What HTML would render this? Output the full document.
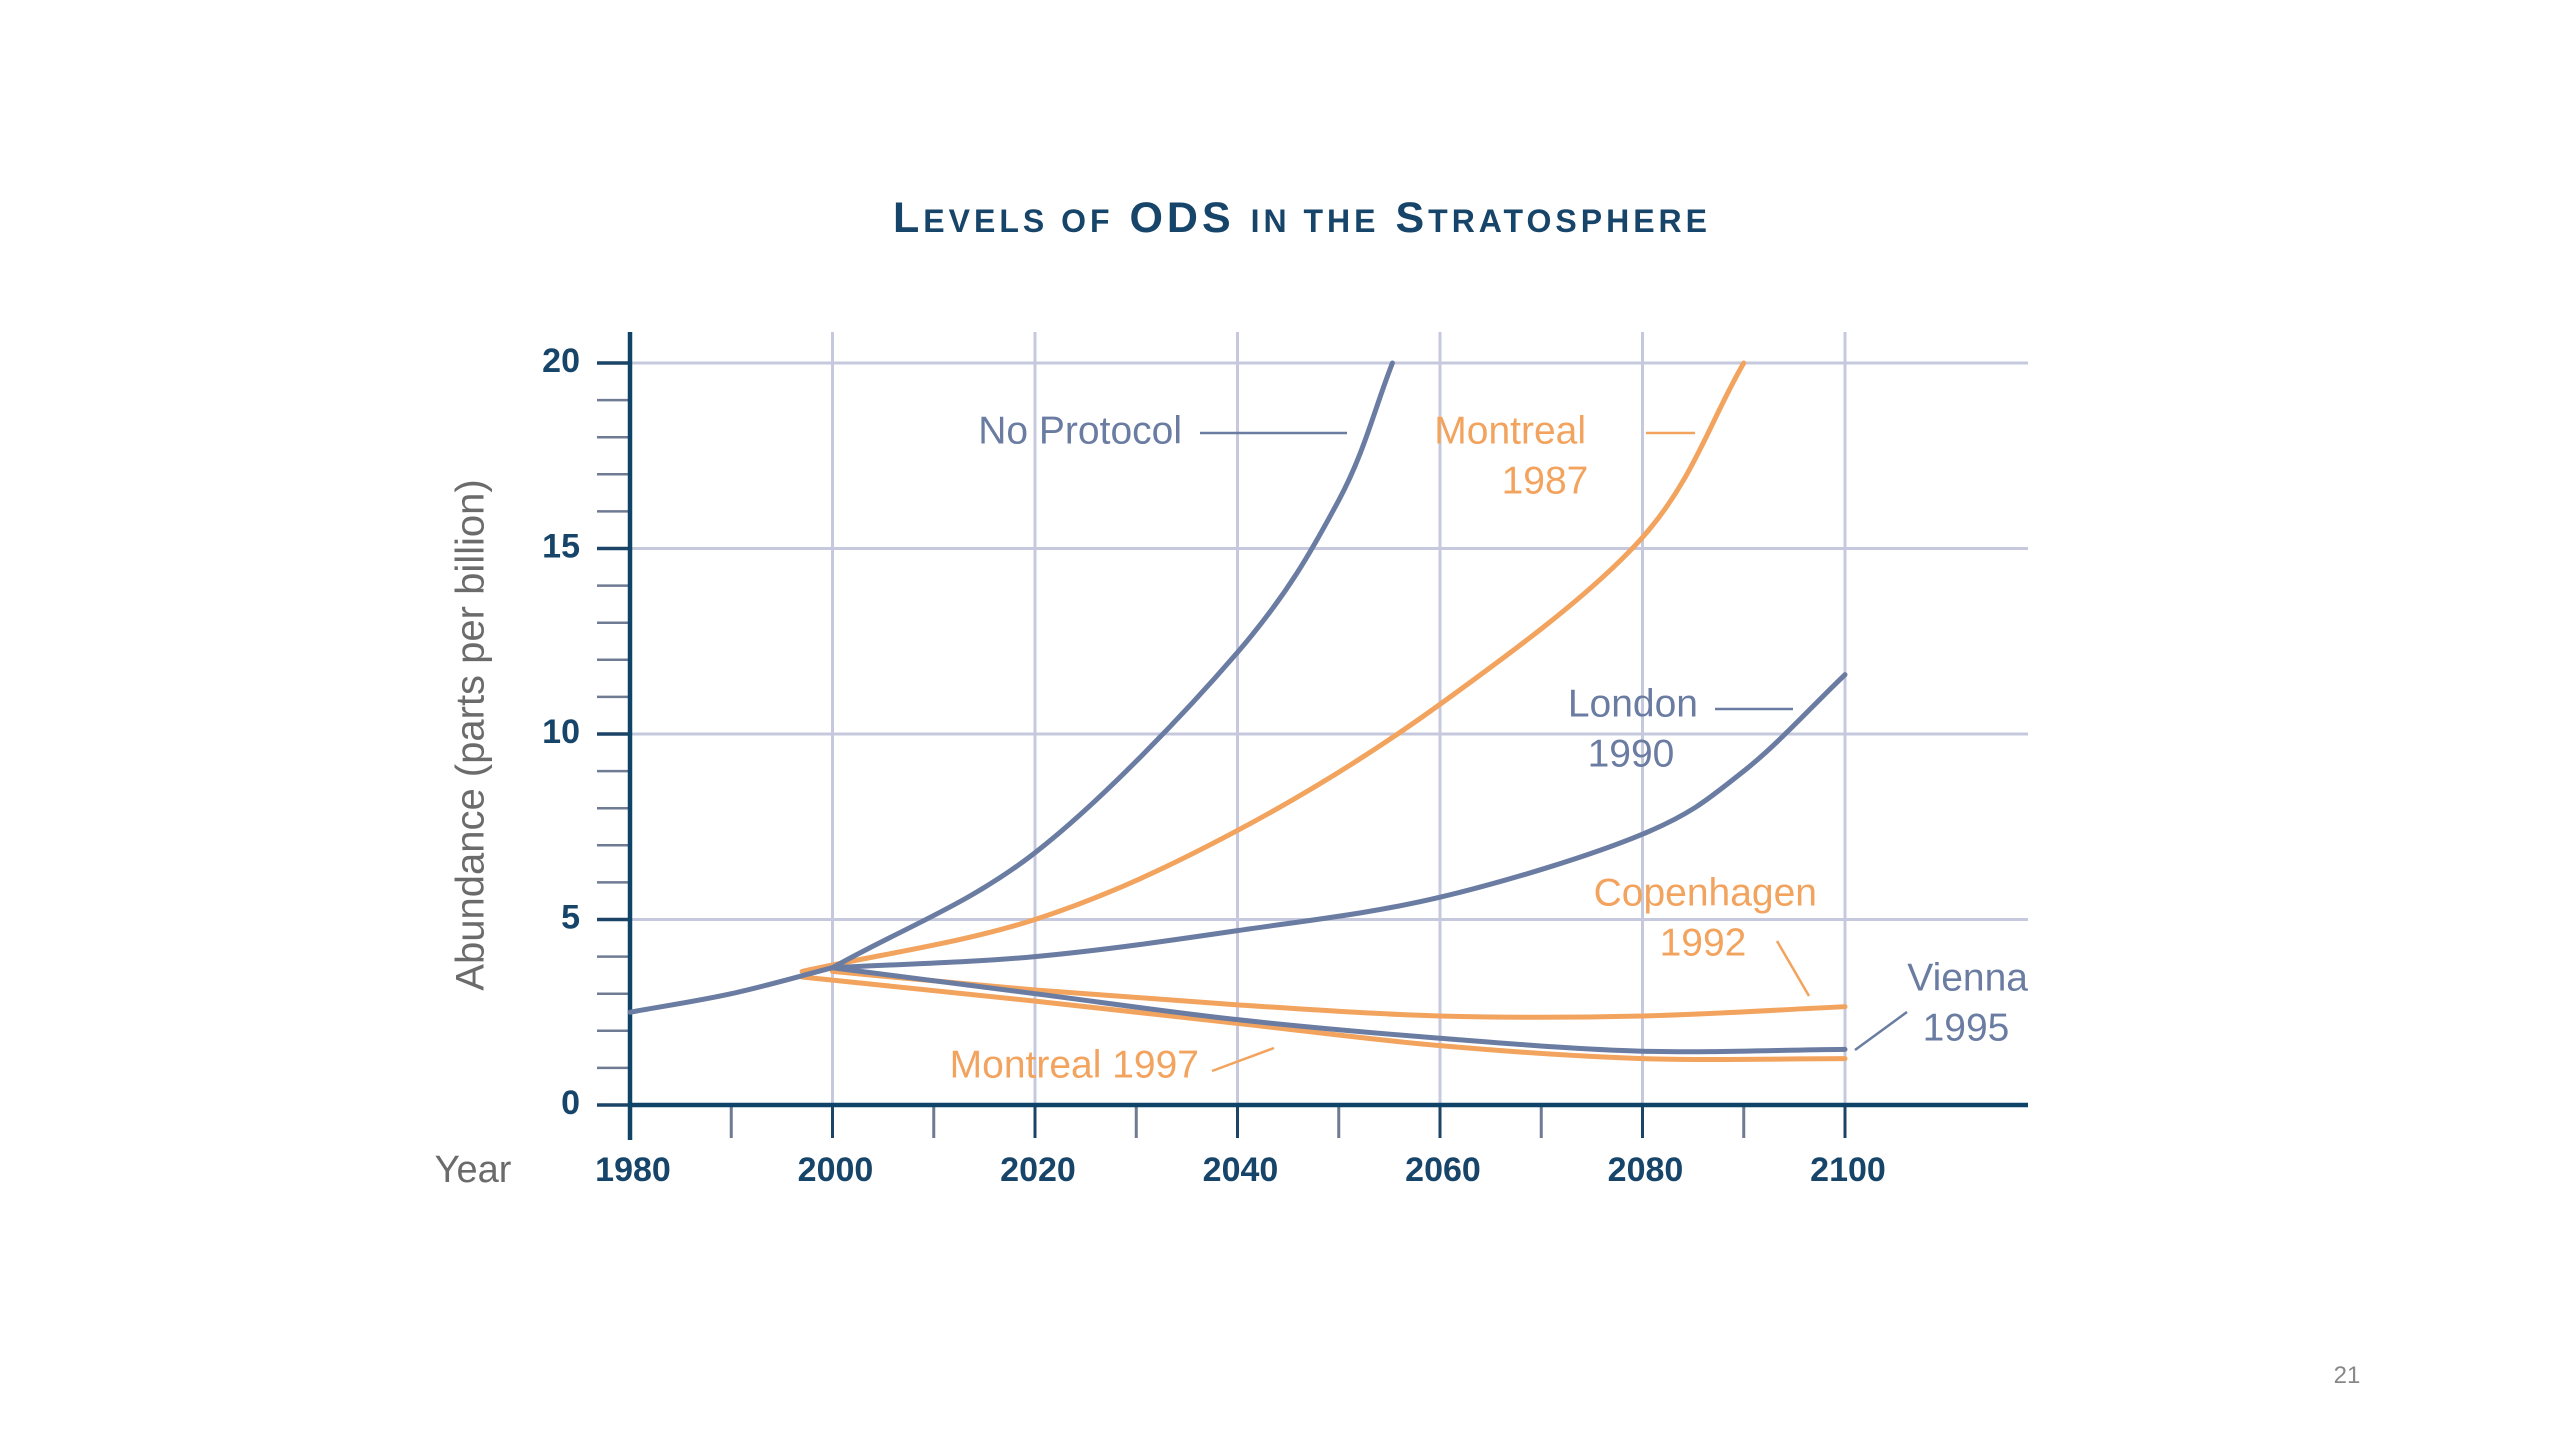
<!DOCTYPE html>
<html><head><meta charset="utf-8"><style>
html,body{margin:0;padding:0;background:#fff;}
svg{display:block;}
text{font-family:"Liberation Sans",sans-serif;}
</style></head><body>
<svg id="chart" width="2560" height="1440" viewBox="0 0 2560 1440">
<text x="1302" y="232" text-anchor="middle" fill="#17456a" font-weight="bold" font-size="43" letter-spacing="4">L<tspan font-size="32">EVELS OF</tspan> ODS <tspan font-size="32">IN THE</tspan> S<tspan font-size="32">TRATOSPHERE</tspan></text>
<g id="grid"></g>
<g id="axes"></g>
<g id="series"></g>
<g id="labels"></g>
<text x="473" y="735" transform="rotate(-90 473 735)" text-anchor="middle" dominant-baseline="middle" fill="#6b6b6b" font-size="40">Abundance (parts per billion)</text>
<text x="473" y="1182" text-anchor="middle" fill="#6b6b6b" font-size="38">Year</text>
<text x="2347" y="1383" text-anchor="middle" fill="#888" font-size="24">21</text>
</svg>
<script>
const xTicks = [1980, 2000, 2020, 2040, 2060, 2080, 2100];
const yTicks = [0, 5, 10, 15, 20];
const historyYears = [1980, 1990, 2000];
const historyVals = [2.5, 3.0, 3.7];
const noProtocolYears = [2000, 2020, 2040, 2050, 2055.3];
const noProtocolVals = [3.7, 6.8, 12.2, 16.3, 20];
const montreal87Years = [1997, 2020, 2040, 2060, 2080, 2090];
const montreal87Vals = [3.6, 5.0, 7.4, 10.8, 15.3, 20];
const londonYears = [2000, 2020, 2040, 2060, 2080, 2090, 2100];
const londonVals = [3.7, 4.0, 4.7, 5.6, 7.3, 9.0, 11.6];
const copenhagenYears = [2000, 2020, 2040, 2060, 2080, 2100];
const copenhagenVals = [3.6, 3.1, 2.7, 2.4, 2.4, 2.65];
const viennaYears = [2000, 2020, 2040, 2060, 2080, 2100];
const viennaVals = [3.7, 3.0, 2.3, 1.8, 1.45, 1.5];
const montreal97Years = [1997, 2020, 2040, 2060, 2080, 2100];
const montreal97Vals = [3.45, 2.8, 2.2, 1.6, 1.25, 1.25];

const NS = 'http://www.w3.org/2000/svg';
const X0 = 630, XPER = 202.5 / 20, Y0 = 1105, YPER = 185.5 / 5;
const xs = y => X0 + (y - 1980) * XPER;
const ys = v => Y0 - v * YPER;
function mk(tag, attrs, parent) {
  const e = document.createElementNS(NS, tag);
  for (const k in attrs) e.setAttribute(k, attrs[k]);
  parent.appendChild(e);
  return e;
}
const grid = document.getElementById('grid');
const axes = document.getElementById('axes');
const series = document.getElementById('series');
const labels = document.getElementById('labels');
const RIGHT = 2028, TOP = 332;

xTicks.forEach(t => {
  if (t === 1980) return;
  const l = mk('line', {x1: xs(t), x2: xs(t), y1: TOP, y2: Y0, stroke: '#c6c9de', 'stroke-width': 3}, grid);
  
  
});
yTicks.forEach(v => {
  if (v === 0) return;
  const l = mk('line', {x1: X0, x2: RIGHT, y1: ys(v), y2: ys(v), stroke: '#c6c9de', 'stroke-width': 3}, grid);
  
  
});
for (let v = 0; v <= 20; v++) {
  const l = mk('line', {x1: 597, x2: X0, y1: ys(v), y2: ys(v), stroke: v % 5 === 0 ? '#1c4466' : '#6f7a93', 'stroke-width': v % 5 === 0 ? 3.5 : 2.5}, axes);
  
  
}
for (let yr = 1980; yr <= 2100; yr += 10) {
  const l = mk('line', {x1: xs(yr), x2: xs(yr), y1: Y0, y2: 1138, stroke: yr % 20 === 0 ? '#1c4466' : '#6f7a93', 'stroke-width': 3}, axes);
  
  
}
const ya = mk('line', {x1: X0, x2: X0, y1: TOP, y2: 1140, stroke: '#0f4468', 'stroke-width': 4.5}, axes);


const xa = mk('line', {x1: X0 - 2, x2: RIGHT, y1: Y0, y2: Y0, stroke: '#0f4468', 'stroke-width': 4.5}, axes);


yTicks.forEach(v => {
  const t = mk('text', {x: 580, y: ys(v), 'text-anchor': 'end', 'dominant-baseline': 'middle', fill: '#17456a', 'font-size': 34, 'font-weight': 'bold'}, axes);
  t.textContent = v;
  
  
});
xTicks.forEach(yr => {
  const t = mk('text', {x: xs(yr) + 3, y: 1181, 'text-anchor': 'middle', fill: '#17456a', 'font-size': 34, 'font-weight': 'bold'}, axes);
  t.textContent = yr;
  
  
});

function pathFrom(years, vals) {
  const p = years.map((y, i) => [xs(y), ys(vals[i])]);
  let d = 'M' + p[0][0] + ',' + p[0][1];
  for (let i = 0; i < p.length - 1; i++) {
    const b = p[i], c = p[i + 1];
    const a = p[i - 1] || [2 * b[0] - c[0], 2 * b[1] - c[1]];
    const e = p[i + 2] || [2 * c[0] - b[0], 2 * c[1] - b[1]];
    const c1 = [b[0] + (c[0] - a[0]) / 6, b[1] + (c[1] - a[1]) / 6];
    const c2 = [c[0] - (e[0] - b[0]) / 6, c[1] - (e[1] - b[1]) / 6];
    d += ' C' + c1 + ' ' + c2 + ' ' + c;
  }
  return d;
}
const BLUE = '#6a7ca2', ORANGE = '#f2a35e';
function line(years, vals, color, name) {
  const e = mk('path', {d: pathFrom(years, vals), fill: 'none', stroke: color, 'stroke-width': 5, 'stroke-linecap': 'round'}, series);
  
  
}
line(montreal97Years, montreal97Vals, ORANGE, 'line-montreal-1997');
line(copenhagenYears, copenhagenVals, ORANGE, 'line-copenhagen-1992');
line(montreal87Years, montreal87Vals, ORANGE, 'line-montreal-1987');
line(viennaYears, viennaVals, BLUE, 'line-vienna-1995');
line(londonYears, londonVals, BLUE, 'line-london-1990');
line(noProtocolYears, noProtocolVals, BLUE, 'line-no-protocol');
line(historyYears, historyVals, BLUE, 'line-historical');

function lab(x, y, txt, color, anchor, name) {
  const t = mk('text', {x: x, y: y, fill: color, 'font-size': 39, 'text-anchor': anchor, 'dominant-baseline': 'middle'}, labels);
  t.textContent = txt;
  
  
}
function lead(x1, y1, x2, y2, color, name) {
  const l = mk('line', {x1, y1, x2, y2, stroke: color, 'stroke-width': 2.5}, labels);
  
  
}
lab(1182, 433, 'No Protocol', BLUE, 'end', 'label-no-protocol');
lead(1200, 433, 1347, 433, BLUE, 'leader-no-protocol');
lab(1586, 433, 'Montreal', ORANGE, 'end', 'label-montreal-1987');
lab(1545, 483, '1987', ORANGE, 'middle', 'label-montreal-1987-year');
lead(1646, 433, 1695, 433, ORANGE, 'leader-montreal-1987');
lab(1698, 706, 'London', BLUE, 'end', 'label-london');
lab(1631, 756, '1990', BLUE, 'middle', 'label-london-year');
lead(1715, 709, 1793, 709, BLUE, 'leader-london');
lab(1817, 895, 'Copenhagen', ORANGE, 'end', 'label-copenhagen');
lab(1703, 945, '1992', ORANGE, 'middle', 'label-copenhagen-year');
lead(1777, 941, 1809, 996, ORANGE, 'leader-copenhagen');
lab(2028, 980, 'Vienna', BLUE, 'end', 'label-vienna');
lab(1966, 1030, '1995', BLUE, 'middle', 'label-vienna-year');
lead(1907, 1012, 1855, 1050, BLUE, 'leader-vienna');
lab(1199, 1067, 'Montreal 1997', ORANGE, 'end', 'label-montreal-1997');
lead(1212, 1071, 1274, 1048, ORANGE, 'leader-montreal-1997');
</script>
</body></html>
